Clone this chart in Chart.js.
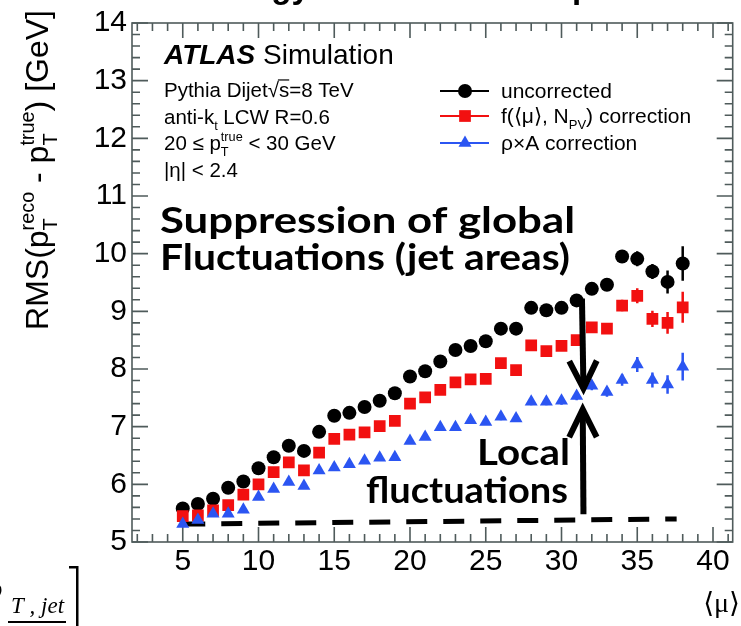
<!DOCTYPE html>
<html lang="en">
<head>
<meta charset="UTF-8">
<title>RMS vs mu</title>
<script src="https://cdn.jsdelivr.net/npm/chart.js"></script>
<style>
  html, body { margin: 0; padding: 0; background: #fff; }
  canvas { display: block; }
</style>
</head>
<body>
<canvas id="rms_chart" width="741" height="626"></canvas>
<script>
// <mu> bins
const mu = [5, 6, 7, 8, 9, 10, 11, 12, 13, 14, 15, 16, 17, 18, 19, 20, 21,
            22, 23, 24, 25, 26, 27, 28, 29, 30, 31, 32, 33, 34, 35, 36, 37, 38];
// RMS values [GeV]
const uncorrected = [5.58, 5.66, 5.75, 5.94, 6.05, 6.28, 6.47, 6.67, 6.58, 6.91, 7.19, 7.24, 7.34, 7.45, 7.58, 7.87, 7.96,
                     8.13, 8.33, 8.40, 8.48, 8.70, 8.70, 9.06, 9.02, 9.06, 9.19, 9.39, 9.46, 9.95, 9.91, 9.69, 9.51, 9.83];
const fCorrection = [5.45, 5.46, 5.55, 5.64, 5.82, 6.00, 6.21, 6.38, 6.24, 6.55, 6.79, 6.86, 6.90, 7.01, 7.10, 7.40, 7.51,
                     7.64, 7.77, 7.82, 7.83, 8.10, 7.98, 8.41, 8.31, 8.40, 8.50, 8.72, 8.70, 9.10, 9.27, 8.87, 8.80, 9.07];
const rhoACorrection = [5.31, 5.38, 5.49, 5.49, 5.56, 5.78, 5.92, 6.04, 5.97, 6.24, 6.29, 6.35, 6.41, 6.46, 6.47, 6.75, 6.82,
                        6.99, 6.99, 7.11, 7.08, 7.17, 7.14, 7.43, 7.43, 7.45, 7.53, 7.71, 7.60, 7.81, 8.08, 7.81, 7.73, 8.04];
// statistical errors
const uncorrectedErr = [0.04, 0.04, 0.04, 0.04, 0.04, 0.04, 0.04, 0.05, 0.05, 0.05, 0.05, 0.05, 0.05, 0.05, 0.05, 0.05, 0.05,
                        0.05, 0.05, 0.05, 0.05, 0.06, 0.06, 0.06, 0.06, 0.07, 0.07, 0.08, 0.08, 0.11, 0.13, 0.13, 0.20, 0.30];
const fCorrectionErr = [0.04, 0.04, 0.04, 0.04, 0.04, 0.04, 0.04, 0.05, 0.05, 0.05, 0.05, 0.05, 0.05, 0.05, 0.05, 0.05, 0.05,
                        0.05, 0.05, 0.05, 0.05, 0.06, 0.06, 0.06, 0.06, 0.07, 0.07, 0.08, 0.08, 0.10, 0.13, 0.14, 0.19, 0.27];
const rhoAErr = [0.04, 0.04, 0.04, 0.04, 0.04, 0.04, 0.04, 0.05, 0.05, 0.05, 0.05, 0.05, 0.05, 0.05, 0.05, 0.05, 0.05,
                 0.05, 0.05, 0.05, 0.05, 0.06, 0.06, 0.06, 0.06, 0.07, 0.07, 0.08, 0.08, 0.10, 0.13, 0.13, 0.16, 0.24];

const xTicks = [5, 10, 15, 20, 25, 30, 35, 40];
const yTicks = [5, 6, 7, 8, 9, 10, 11, 12, 13, 14];

// dashed "local fluctuations" baseline and the two arrows (in data units)
const baselineMu = [5.1, 37.6];
const baselineRms = [5.31, 5.40];
const arrowDown = { mu: [31.35, 31.45], rms: [9.22, 7.66] };
const arrowUp = { mu: [31.45, 31.4], rms: [5.48, 7.30] };

const SANS = "'Liberation Sans', Arial, sans-serif";
const SERIF = "'Liberation Serif', 'DejaVu Serif', serif";
const FRAME = '#4f5b5b';
const RED = '#f21010';
const BLUE = '#2b55f2';

const pts = vals => mu.map((m, i) => ({ x: m, y: vals[i] }));

// text with sub/superscripts: parts are strings, {sqrt} or {sub, sup}
function drawRich(ctx, parts, x, y, size, style, measureOnly) {
    let cx = x;
    for (const p of parts) {
        if (typeof p === 'string') {
            ctx.font = `${style} ${size}px ${SANS}`;
            if (!measureOnly) ctx.fillText(p, cx, y);
            cx += ctx.measureText(p).width;
        } else if (p.sqrt) {
            ctx.font = `${style} ${size}px ${SANS}`;
            const w1 = ctx.measureText('\u221A').width;
            const w2 = ctx.measureText(p.sqrt).width;
            if (!measureOnly) {
                ctx.fillText('\u221A', cx, y);
                ctx.fillText(p.sqrt, cx + w1, y);
                ctx.fillRect(cx + w1 - 1, y - size * 0.86, w2 + 1, 1.2);
            }
            cx += w1 + w2;
        } else {
            const s = size * 0.62;
            ctx.font = `${style} ${s}px ${SANS}`;
            let w = 0;
            if (p.sup) { if (!measureOnly) ctx.fillText(p.sup, cx, y - size * 0.45); w = Math.max(w, ctx.measureText(p.sup).width); }
            if (p.sub) { if (!measureOnly) ctx.fillText(p.sub, cx, y + size * 0.28); w = Math.max(w, ctx.measureText(p.sub).width); }
            cx += w;
        }
    }
    return cx - x;
}

function fitText(ctx, text, x, y, width, font) {
    ctx.font = font;
    const m = ctx.measureText(text).width;
    ctx.save();
    ctx.translate(x, y);
    ctx.scale(width / m, 1);
    ctx.fillText(text, 0, 0);
    ctx.restore();
}

function drawArrow(ctx, xs, ys, a) {
    const ax = xs.getPixelForValue(a.mu[0]), ay = ys.getPixelForValue(a.rms[0]);
    const bx = xs.getPixelForValue(a.mu[1]), by = ys.getPixelForValue(a.rms[1]);
    const ang = Math.atan2(by - ay, bx - ax);
    const L = 31, spread = 0.46;
    ctx.beginPath();
    ctx.moveTo(ax, ay);
    ctx.lineTo(bx, by);
    ctx.stroke();
    ctx.beginPath();
    ctx.moveTo(bx - L * Math.cos(ang - spread), by - L * Math.sin(ang - spread));
    ctx.lineTo(bx, by);
    ctx.lineTo(bx - L * Math.cos(ang + spread), by - L * Math.sin(ang + spread));
    ctx.stroke();
}

// ROOT-style frame with inward ticks on all four sides
const framePlugin = {
    id: 'frame',
    beforeDatasetsDraw(chart) {
        const { ctx, chartArea: a, scales: { x, y } } = chart;
        ctx.save();
        ctx.strokeStyle = FRAME;
        ctx.lineWidth = 1.6;
        ctx.strokeRect(a.left, a.top, a.right - a.left, a.bottom - a.top);
        ctx.beginPath();
        for (let v = 2; v <= 41; v++) {
            const px = x.getPixelForValue(v);
            const len = v % 5 === 0 ? 15 : 8;
            ctx.moveTo(px, a.bottom); ctx.lineTo(px, a.bottom - len);
            ctx.moveTo(px, a.top); ctx.lineTo(px, a.top + len);
        }
        for (let k = 25; k <= 70; k++) {
            const py = y.getPixelForValue(k / 5);
            const len = k % 5 === 0 ? 16 : 8;
            ctx.moveTo(a.left, py); ctx.lineTo(a.left + len, py);
            ctx.moveTo(a.right, py); ctx.lineTo(a.right - len, py);
        }
        ctx.stroke();
        ctx.restore();
    }
};

// vertical error bars drawn under the markers
const errorBarPlugin = {
    id: 'errorBars',
    beforeDatasetsDraw(chart) {
        const { ctx, scales: { x, y } } = chart;
        const sets = [[uncorrected, uncorrectedErr, '#000'], [fCorrection, fCorrectionErr, RED], [rhoACorrection, rhoAErr, BLUE]];
        ctx.save();
        ctx.lineWidth = 2.5;
        sets.forEach(([vals, errs, col]) => {
            ctx.strokeStyle = col;
            ctx.beginPath();
            mu.forEach((m, i) => {
                const px = x.getPixelForValue(m);
                ctx.moveTo(px, y.getPixelForValue(vals[i] - errs[i]));
                ctx.lineTo(px, y.getPixelForValue(vals[i] + errs[i]));
            });
            ctx.stroke();
        });
        ctx.restore();
    }
};

const overlayPlugin = {
    id: 'overlay',
    afterDraw(chart) {
        const { ctx, scales: { x, y } } = chart;
        ctx.save();
        ctx.fillStyle = '#000';
        ctx.textBaseline = 'alphabetic';
        ctx.textAlign = 'left';

        // slide title, cut by the top edge
        ctx.font = `bold 33px ${SANS}`;
        ctx.fillText('Jet Energy Scale and Pile-up', 141, -2);

        // y axis title
        const yParts = ['RMS(p', { sub: 'T', sup: 'reco' }, ' - p', { sub: 'T', sup: 'true' }, ') [GeV]'];
        ctx.save();
        ctx.translate(48, 170);
        ctx.rotate(-Math.PI / 2);
        const w = drawRich(ctx, yParts, 0, 0, 32, '', true);
        drawRich(ctx, yParts, -w / 2, 0, 32, '', false);
        ctx.restore();

        // x axis title
        ctx.font = `28px ${SERIF}`;
        ctx.textAlign = 'right';
        ctx.fillText('\u27E8\u03BC\u27E9', 740, 612);
        ctx.textAlign = 'left';

        // fragment of the neighbouring formula at bottom left
        ctx.font = `italic 23px ${SERIF}`;
        ctx.fillText('T , jet', 11, 613);
        ctx.font = `italic 30px ${SERIF}`;
        ctx.fillText('\u03C1', -12, 598);
        ctx.fillRect(8, 621, 58, 2);
        ctx.fillRect(76, 566, 2.5, 60);
        ctx.fillRect(69, 566, 9, 2.5);

        // ATLAS label and run info
        ctx.font = `italic bold 28px ${SANS}`;
        ctx.fillText('ATLAS', 164, 64);
        const aw = ctx.measureText('ATLAS ').width;
        ctx.font = `28px ${SANS}`;
        ctx.fillText('Simulation', 164 + aw, 64);
        drawRich(ctx, ['Pythia Dijet', { sqrt: 's' }, '=8 TeV'], 164, 97, 20.5, '', false);
        drawRich(ctx, ['anti-k', { sub: 't' }, ' LCW R=0.6'], 164, 124, 20.5, '', false);
        drawRich(ctx, ['20 \u2264 p', { sub: 'T', sup: 'true' }, ' < 30 GeV'], 164, 150, 20.5, '', false);
        drawRich(ctx, ['|\u03B7| < 2.4'], 164, 177, 20.5, '', false);

        // legend
        const legend = [
            { parts: ['uncorrected'], color: '#000', style: 'circle', r: 7, yc: 91 },
            { parts: ['f(\u27E8\u03BC\u27E9, N', { sub: 'PV' }, ') correction'], color: RED, style: 'rect', r: 8.3, yc: 116 },
            { parts: ['\u03C1\u00D7A correction'], color: BLUE, style: 'triangle', r: 7.5, yc: 143 }
        ];
        legend.forEach(l => {
            ctx.strokeStyle = l.color;
            ctx.lineWidth = 2;
            ctx.beginPath();
            ctx.moveTo(440, l.yc); ctx.lineTo(489, l.yc);
            ctx.stroke();
            ctx.fillStyle = l.color;
            Chart.helpers.drawPoint(ctx, { pointStyle: l.style, radius: l.r, borderWidth: 0, rotation: 0 }, 465, l.yc);
            ctx.fillStyle = '#000';
            drawRich(ctx, l.parts, 501, l.yc + 7, 21, '', false);
        });

        // annotations
        const big = `bold 37px Lato, 'DejaVu Sans', sans-serif`;
        fitText(ctx, 'Suppression of global', 160, 233, 415, big);
        fitText(ctx, 'Fluctuations (jet areas)', 160, 270, 410, big);
        fitText(ctx, 'Local', 477, 465, 93, big);
        fitText(ctx, 'fluctuations', 366, 503, 202, big);

        ctx.strokeStyle = '#000';
        ctx.lineWidth = 6;
        ctx.lineJoin = 'miter';
        drawArrow(ctx, x, y, arrowDown);
        drawArrow(ctx, x, y, arrowUp);
        ctx.restore();
    }
};

const ctx = document.getElementById('rms_chart').getContext('2d');
new Chart(ctx, {
    type: 'scatter',
    data: {
        datasets: [
            {
                label: 'rho x A correction',
                data: pts(rhoACorrection),
                pointStyle: 'triangle',
                pointRadius: 7.5,
                backgroundColor: BLUE,
                borderWidth: 0,
                order: 1
            },
            {
                label: 'f(mu, NPV) correction',
                data: pts(fCorrection),
                pointStyle: 'rect',
                pointRadius: 8.3,
                backgroundColor: RED,
                borderWidth: 0,
                order: 2
            },
            {
                label: 'uncorrected',
                data: pts(uncorrected),
                pointStyle: 'circle',
                pointRadius: 7,
                backgroundColor: '#000',
                borderWidth: 0,
                order: 3
            },
            {
                label: 'local baseline',
                type: 'line',
                data: baselineMu.map((m, i) => ({ x: m, y: baselineRms[i] })),
                showLine: true,
                borderColor: '#000',
                borderWidth: 5,
                borderDash: [21, 16],
                pointRadius: 0,
                order: 4
            }
        ]
    },
    options: {
        responsive: false,
        animation: false,
        layout: { padding: { left: 0, right: 1, top: 18, bottom: 0 } },
        plugins: { legend: { display: false }, tooltip: { enabled: false } },
        scales: {
            x: {
                type: 'linear',
                min: 1.65,
                max: 41.3,
                afterFit(s) { s.height = 84; },
                afterBuildTicks(s) { s.ticks = xTicks.map(v => ({ value: v })); },
                grid: { display: false, drawTicks: false },
                border: { display: false },
                ticks: { color: '#000', padding: 2, maxRotation: 0, font: { family: SANS, size: 30 } }
            },
            y: {
                min: 5,
                max: 14,
                afterFit(s) { s.width = 132; },
                afterBuildTicks(s) { s.ticks = yTicks.map(v => ({ value: v })); },
                grid: { display: false, drawTicks: false },
                border: { display: false },
                ticks: { color: '#000', padding: 5, font: { family: SANS, size: 30 } }
            }
        }
    },
    plugins: [framePlugin, errorBarPlugin, overlayPlugin]
});
</script>
</body>
</html>
